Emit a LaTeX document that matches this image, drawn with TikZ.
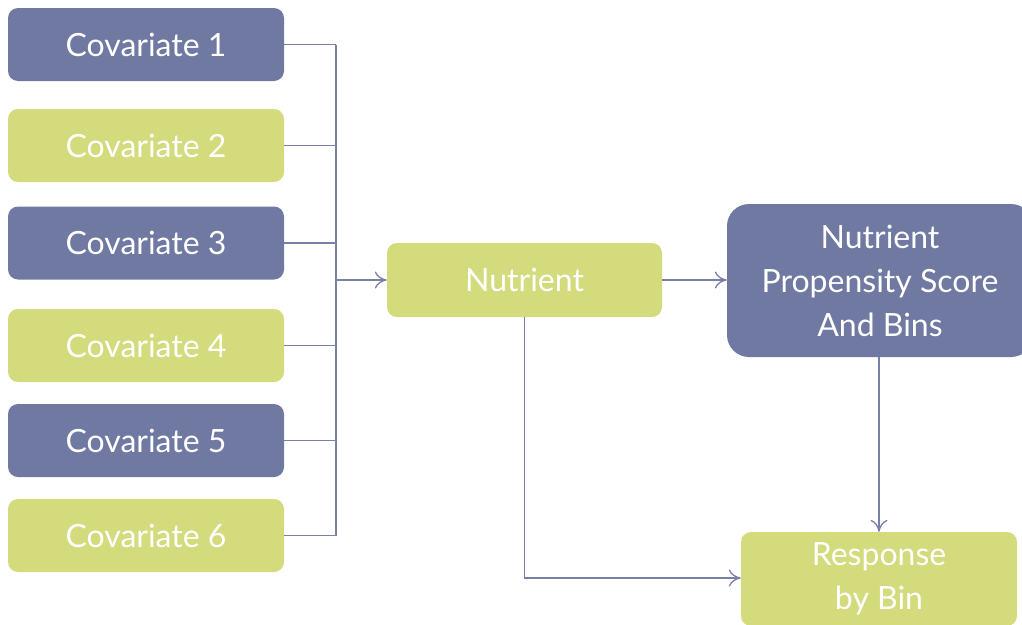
\documentclass[tikz,border=0pt]{standalone}
\usepackage{fontspec}
\setmainfont{Lato}
\usetikzlibrary{arrows.meta}
\definecolor{pur}{HTML}{6F79A1}
\definecolor{grn}{HTML}{D4DB7C}
\definecolor{ln}{HTML}{7880A8}
\begin{document}
\begin{tikzpicture}[x=1pt,y=-1pt,
  box/.style={rounded corners=10pt, minimum width=276pt, minimum height=73pt, inner sep=0pt, text=white, font=\fontsize{32}{44}\selectfont, align=center},
  pbox/.style={box, fill=pur},
  gbox/.style={box, fill=grn},
  conn/.style={draw=ln, line width=1.3pt},
  arr/.style={conn, -{To[length=12pt,width=17pt,line width=1.3pt]}}]
\useasboundingbox (0,0) rectangle (1022,624);
\node[pbox] (c1) at (146,44.5) {Covariate 1};
\node[gbox] (c2) at (146,145.5) {Covariate 2};
\node[pbox] (c3) at (146,243) {Covariate 3};
\node[gbox] (c4) at (146,345.5) {Covariate 4};
\node[pbox] (c5) at (146,440.5) {Covariate 5};
\node[gbox] (c6) at (146,535.5) {Covariate 6};
\node[gbox, minimum width=275pt, minimum height=74pt] (nut) at (524.5,280) {Nutrient};
\node[pbox, rounded corners=22pt, minimum width=306pt, minimum height=153pt] (prop) at (880,280.5) {Nutrient\\Propensity Score\\And Bins};
\node[gbox, minimum width=276pt, minimum height=94pt] (resp) at (879,579) {Response\\by Bin};
\coordinate (bus) at (336,0);
\foreach \i in {1,...,6} {\draw[conn] (c\i.east) -- (c\i.east -| bus);}
\draw[conn] (c1.east -| bus) -- (c6.east -| bus);
\draw[arr] (bus |- nut.west) -- (nut.west);
\draw[arr] (nut.east) -- (prop.west |- nut.east);
\draw[arr] (prop.south -| resp.north) -- (resp.north);
\coordinate (turn) at (nut.south |- 0,578);
\draw[arr] (nut.south) -- (turn) -- (resp.west |- turn);
\end{tikzpicture}
\end{document}
